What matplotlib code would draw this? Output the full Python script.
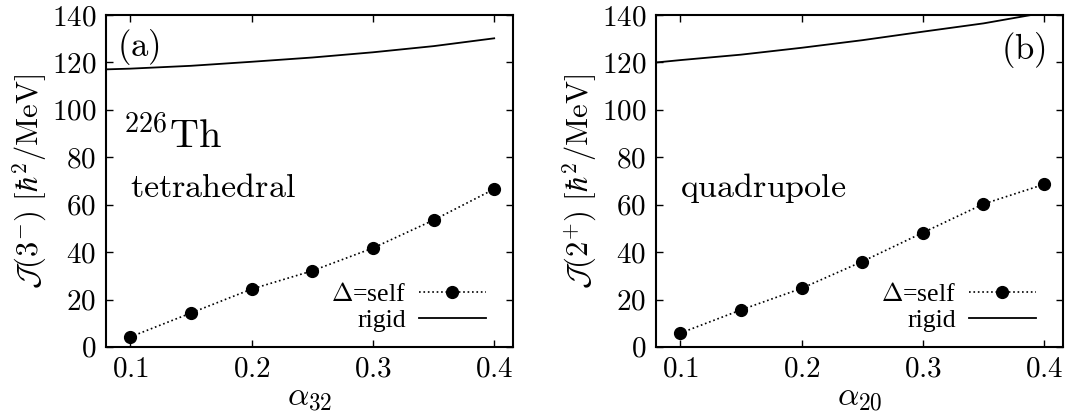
import numpy as np
import matplotlib
matplotlib.use('Agg')
import matplotlib.pyplot as plt
from matplotlib import rcParams
from matplotlib.ticker import FuncFormatter, MultipleLocator

rcParams['font.family'] = 'serif'
rcParams['font.serif'] = ['Liberation Serif', 'DejaVu Serif']
rcParams['mathtext.fontset'] = 'cm'
rcParams['xtick.direction'] = 'in'
rcParams['ytick.direction'] = 'in'
rcParams['xtick.top'] = True
rcParams['ytick.right'] = True
rcParams['xtick.major.size'] = 5
rcParams['ytick.major.size'] = 5
rcParams['axes.linewidth'] = 1.5

# deformation values
alpha = [0.10, 0.15, 0.20, 0.25, 0.30, 0.35, 0.40]
# (a) tetrahedral, 226Th
self_tet = [4.2, 14.3, 24.4, 32.1, 41.7, 53.5, 66.6]
rigid_tet_x = [0.08, 0.10, 0.15, 0.20, 0.25, 0.30, 0.35, 0.40]
rigid_tet = [117.1, 117.4, 118.6, 120.3, 122.1, 124.3, 126.9, 130.2]
# (b) quadrupole
self_quad = [5.8, 15.6, 24.7, 36.0, 48.2, 60.3, 68.6]
rigid_quad_x = [0.08, 0.10, 0.15, 0.20, 0.25, 0.30, 0.35, 0.40]
rigid_quad = [120.0, 121.0, 123.3, 126.2, 129.4, 133.0, 136.5, 141.0]

panels = [
    dict(self=self_tet, rx=rigid_tet_x, rigid=rigid_tet,
         xlabel=r'$\alpha_{32}$', ylabel=r'$\mathcal{J}(3^{-})\ [\hbar^2/\mathrm{MeV}]$'),
    dict(self=self_quad, rx=rigid_quad_x, rigid=rigid_quad,
         xlabel=r'$\alpha_{20}$', ylabel=r'$\mathcal{J}(2^{+})\ [\hbar^2/\mathrm{MeV}]$'),
]

fig = plt.figure(figsize=(10.86, 4.19), dpi=100)
lefts = [0.0976, 0.604]
tickfmt = FuncFormatter(lambda v, p: r'$%g$' % round(v, 3))

axes = []
for i, p in enumerate(panels):
    ax = fig.add_axes([lefts[i], 0.172, 0.375, 0.792])
    ax.plot(alpha, p['self'], 'k:', marker='o', markersize=8.5, linewidth=1.2,
            label=r'$\Delta$=self')
    ax.plot(p['rx'], p['rigid'], 'k-', linewidth=1.3, label='rigid')
    ax.set_xlim(0.08, 0.4157)
    ax.set_ylim(0, 140)
    ax.xaxis.set_major_locator(MultipleLocator(0.1))
    ax.yaxis.set_major_locator(MultipleLocator(20))
    ax.xaxis.set_major_formatter(tickfmt)
    ax.yaxis.set_major_formatter(tickfmt)
    ax.tick_params(labelsize=21, width=1.0, pad=7)
    ax.set_xlabel(p['xlabel'], fontsize=24, labelpad=0)
    ax.set_ylabel(p['ylabel'], fontsize=22, labelpad=2)
    leg = ax.legend(loc='lower right', frameon=False, markerfirst=False,
                    numpoints=1, fontsize=18.5, handlelength=2.6,
                    handletextpad=0.5, labelspacing=0.08,
                    borderaxespad=0.2, bbox_to_anchor=(0.97, 0.0))
    axes.append(ax)

axes[0].text(0.089, 126.5, r'$\mathrm{(a)}$', fontsize=25, va='center', ha='left')
axes[0].text(0.094, 84.3, r'$^{226}\mathrm{Th}$', fontsize=29, va='baseline', ha='left')
axes[0].text(0.100, 63.3, r'$\mathrm{tetrahedral}$', fontsize=24.5, va='baseline', ha='left')
axes[1].text(0.4015, 125.2, r'$\mathrm{(b)}$', fontsize=25, va='center', ha='right')
axes[1].text(0.0998, 63.3, r'$\mathrm{quadrupole}$', fontsize=24.5, va='baseline', ha='left')

plt.savefig('out.png', dpi=100)
plt.close()
